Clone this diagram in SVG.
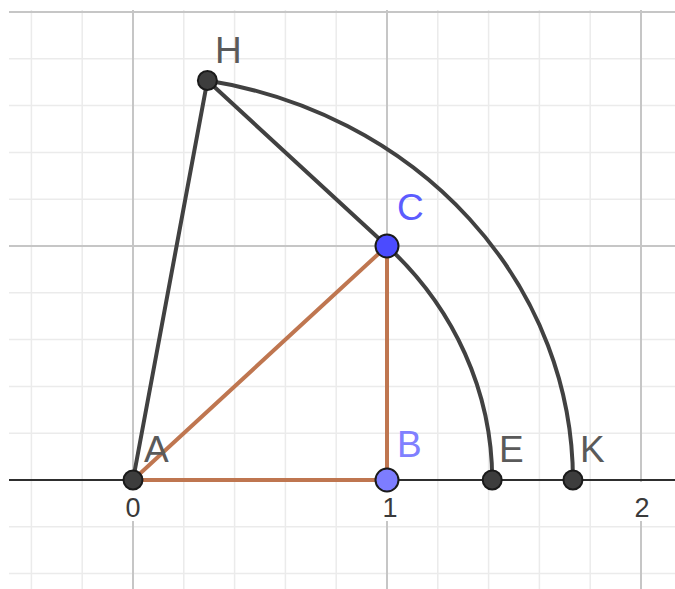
<svg xmlns="http://www.w3.org/2000/svg" width="675" height="589" viewBox="0 0 675 589">
<style>
.minor{stroke:#ebebeb;stroke-width:1.5}
.major{stroke:#c6c6c6;stroke-width:2}
.axis{stroke:#2e2e2e;stroke-width:2}
.gray{stroke:#414141;stroke-width:4;fill:none;stroke-linecap:round}
.brown{stroke:#bf7650;stroke-width:4;fill:none;stroke-linecap:round}
.pt{fill:#3d3d3d;stroke:#1a1a1a;stroke-width:2}
.bpt{stroke:#1a1a1a;stroke-width:2}
.lbl{font-family:"Liberation Sans",Arial,sans-serif;font-size:37px;fill:#5a5a5a}
.num{font-family:"Liberation Sans",Arial,sans-serif;font-size:27px;fill:#3a3a3a;text-anchor:middle}
</style>
<rect width="675" height="589" fill="#ffffff"/>
<g id="grid">
<g class="minor">
<line x1="31.4" y1="10" x2="31.4" y2="589"/>
<line x1="82.2" y1="10" x2="82.2" y2="589"/>
<line x1="183.8" y1="10" x2="183.8" y2="589"/>
<line x1="234.6" y1="10" x2="234.6" y2="589"/>
<line x1="285.4" y1="10" x2="285.4" y2="589"/>
<line x1="336.2" y1="10" x2="336.2" y2="589"/>
<line x1="437.8" y1="10" x2="437.8" y2="589"/>
<line x1="488.6" y1="10" x2="488.6" y2="589"/>
<line x1="539.4" y1="10" x2="539.4" y2="589"/>
<line x1="590.2" y1="10" x2="590.2" y2="589"/>
<line x1="9" y1="58.8" x2="675" y2="58.8"/>
<line x1="9" y1="105.6" x2="675" y2="105.6"/>
<line x1="9" y1="152.4" x2="675" y2="152.4"/>
<line x1="9" y1="199.2" x2="675" y2="199.2"/>
<line x1="9" y1="292.8" x2="675" y2="292.8"/>
<line x1="9" y1="339.6" x2="675" y2="339.6"/>
<line x1="9" y1="386.4" x2="675" y2="386.4"/>
<line x1="9" y1="433.2" x2="675" y2="433.2"/>
<line x1="9" y1="526.8" x2="675" y2="526.8"/>
<line x1="9" y1="573.6" x2="675" y2="573.6"/>
</g>
<g class="major">
<line x1="133" y1="10" x2="133" y2="589"/>
<line x1="387" y1="10" x2="387" y2="589"/>
<line x1="641" y1="10" x2="641" y2="589"/>
<line x1="9" y1="12" x2="675" y2="12"/>
<line x1="9" y1="246" x2="675" y2="246"/>
</g>
</g>
<g id="axes">
<line class="axis" x1="9" y1="480" x2="675" y2="480"/>
<rect x="121" y="482" width="24" height="39" fill="#ffffff"/>
<rect x="377" y="482" width="24" height="39" fill="#ffffff"/>
<rect x="630" y="482" width="24" height="39" fill="#ffffff"/>
<text class="num" x="133" y="517">0</text>
<text class="num" x="390" y="517">1</text>
<text class="num" x="642" y="517">2</text>
</g>
<g id="connectors">
<line class="brown" x1="133" y1="480" x2="387" y2="480"/>
<line class="brown" x1="387" y1="480" x2="387" y2="246"/>
<line class="brown" x1="133" y1="480" x2="387" y2="246"/>
<line class="gray" x1="133" y1="480" x2="207.39" y2="80.54"/>
<line class="gray" x1="207.39" y1="80.54" x2="387" y2="246"/>
<path class="gray" d="M387,246 A359.21,330.93 0 0 1 492.21,480"/>
<path class="gray" d="M207.39,80.54 A439.94,405.3 0 0 1 572.94,480"/>
</g>
<g id="node-A"><circle class="pt" cx="133" cy="480" r="9.5"/><text class="lbl" x="144" y="462">A</text></g>
<g id="node-B"><circle class="bpt" cx="387" cy="480" r="11.5" fill="#7d7dff"/><text class="lbl" x="397" y="457" style="fill:#8080ff">B</text></g>
<g id="node-C"><circle class="bpt" cx="387" cy="246" r="11.5" fill="#4b4bff"/><text class="lbl" x="397" y="220" style="fill:#5c5cff">C</text></g>
<g id="node-E"><circle class="pt" cx="492.21" cy="480" r="9.5"/><text class="lbl" x="499" y="462">E</text></g>
<g id="node-K"><circle class="pt" cx="572.94" cy="480" r="9.5"/><text class="lbl" x="580" y="462">K</text></g>
<g id="node-H"><circle class="pt" cx="207.39" cy="80.54" r="9.5"/><text class="lbl" x="215" y="63">H</text></g>
</svg>
